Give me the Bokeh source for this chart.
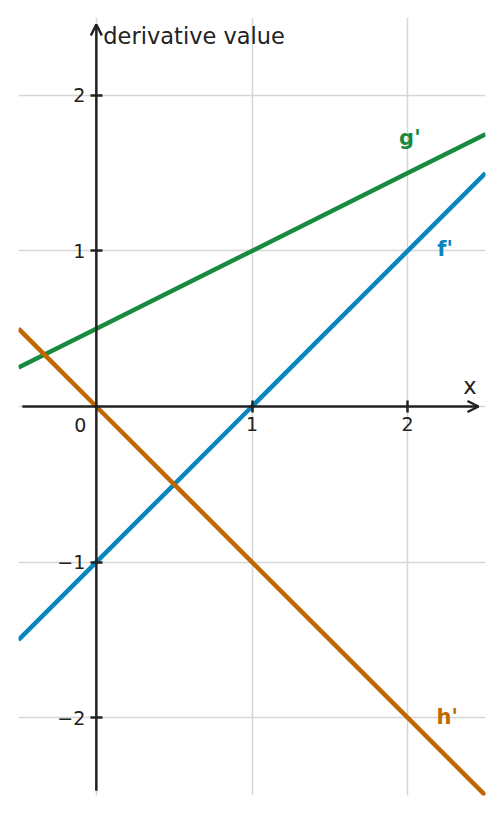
from bokeh.plotting import figure
from bokeh.models import (Range1d, LinearAxis, FixedTicker, Grid, Arrow, OpenHead)
from bokeh.core.properties import value
from bokeh.embed import file_html
from bokeh.resources import INLINE

# ---- data ----
x_vals = [-0.5, 0.0, 0.5, 1.0, 1.5, 2.0, 2.5]
f_prime = [-1.5, -1.0, -0.5, 0.0, 0.5, 1.0, 1.5]
g_prime = [0.25, 0.5, 0.75, 1.0, 1.25, 1.5, 1.75]
h_prime = [0.5, 0.0, -0.5, -1.0, -1.5, -2.0, -2.5]
series_names = ["f'", "g'", "h'"]
x_ticks = [1, 2]
y_ticks = [-2, -1, 1, 2]
y_tick_labels = ["\u22122", "\u22121", "1", "2"]
grid_x = [0, 1, 2]
grid_y = [-2, -1, 0, 1, 2]
x_label = "x"
y_label = "derivative value"
origin_label = "0"

# ---- styles ----
FONT = "DejaVu Sans"
INK = "#222222"
BLUE = "#0a86bf"
GREEN = "#178a3e"
ORANGE = "#c06700"
GRID = "#d6d6d6"

p = figure(frame_width=467, frame_height=778,
           x_range=Range1d(-0.5, 2.5), y_range=Range1d(-2.5, 2.5),
           x_axis_type=None, y_axis_type=None,
           output_backend="svg", toolbar_location=None,
           min_border_left=18, min_border_right=10,
           min_border_top=17, min_border_bottom=8)
p.outline_line_color = None
p.background_fill_color = "white"
p.border_fill_color = "white"

# grids
p.add_layout(Grid(dimension=0, ticker=FixedTicker(ticks=grid_x),
                  grid_line_color=GRID, grid_line_width=1.5), "center")
p.add_layout(Grid(dimension=1, ticker=FixedTicker(ticks=grid_y),
                  grid_line_color=GRID, grid_line_width=1.5), "center")

# lines
p.line(x_vals, f_prime, line_width=4.5, line_color=BLUE)
p.line(x_vals, g_prime, line_width=4.5, line_color=GREEN)
p.line(x_vals, h_prime, line_width=4.5, line_color=ORANGE)

# axes through the origin
common = dict(axis_line_color=None, major_tick_in=6, major_tick_out=6,
              major_tick_line_width=2.5, major_tick_line_color=INK,
              minor_tick_line_color=None,
              major_label_text_font=FONT, major_label_text_font_size="19px",
              major_label_text_color=INK)
xax = LinearAxis(fixed_location=0, ticker=FixedTicker(ticks=x_ticks),
                 major_label_standoff=4, **common)
yax = LinearAxis(fixed_location=0, ticker=FixedTicker(ticks=y_ticks),
                 major_label_standoff=5,
                 major_label_overrides={t: s for t, s in zip(y_ticks, y_tick_labels)},
                 **common)
p.add_layout(xax, "below")
p.add_layout(yax, "left")

p.add_layout(Arrow(end=OpenHead(size=11, line_width=2.5, line_color=INK),
                   x_start=-0.475, y_start=0, x_end=2.455, y_end=0,
                   line_width=2.5, line_color=INK))
p.add_layout(Arrow(end=OpenHead(size=11, line_width=2.5, line_color=INK),
                   x_start=0, y_start=-2.47, x_end=0, y_end=2.455,
                   line_width=2.5, line_color=INK))

# axis labels
p.text(x=[0], y=[2.5], text=[y_label], text_font=value(FONT),
       text_font_size="22.5px", text_color=INK, text_align="left",
       text_baseline="alphabetic", x_offset=7, y_offset=18)
p.text(x=[2.455], y=[0], text=[x_label], text_font=value(FONT),
       text_font_size="22.5px", text_color=INK, text_align="right",
       text_baseline="alphabetic", x_offset=-2, y_offset=-21)
p.text(x=[0], y=[0], text=[origin_label], text_font=value(FONT),
       text_font_size="19px", text_color=INK, text_align="right",
       text_baseline="alphabetic", x_offset=-10, y_offset=18)

# series labels
for name, lx, ly, col in zip(series_names, [2.19, 1.945, 2.185],
                             [0.964, 1.677, -2.044], [BLUE, GREEN, ORANGE]):
    p.text(x=[lx], y=[ly], text=[name], text_font=value(FONT),
           text_font_style="bold", text_font_size="21px", text_color=col,
           text_align="left", text_baseline="alphabetic", y_offset=-8)

open("out.html", "w").write(file_html(p, INLINE))
